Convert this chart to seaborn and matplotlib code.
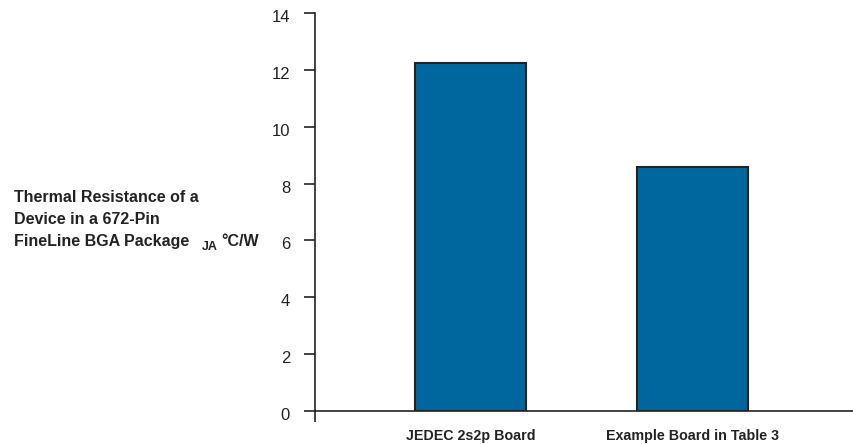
import pandas as pd
import seaborn as sns
from matplotlib import pyplot as plt
from matplotlib import transforms

boards = ['JEDEC 2s2p Board', 'Example Board in Table 3']
theta_ja = [12.23, 8.6]

df = pd.DataFrame({'board': boards, 'theta': theta_ja})

sns.set_style('white')
plt.rcParams['font.family'] = ['Liberation Sans', 'DejaVu Sans']

W, H = 854, 444
fig = plt.figure(figsize=(W/100, H/100), dpi=100)
ax = fig.add_axes([315/W, 33/H, 1 - 315/W, (411-13)/H])

sns.barplot(data=df, x='board', y='theta', color='#00679E', width=0.5,
            edgecolor='#222222', linewidth=1.5, saturation=1, ax=ax)

ax.set_xlim(-0.7, 1.73)
ax.set_ylim(0, 14)
ax.set_yticks(range(0, 15, 2))
ax.set_xlabel('')
ax.set_ylabel('')
for s in ['top', 'right']:
    ax.spines[s].set_visible(False)
for s in ['left', 'bottom']:
    ax.spines[s].set_color('#222222')
    ax.spines[s].set_linewidth(1.2)

ax.tick_params(axis='y', length=8, width=1.2, color='#222222', pad=10,
               labelsize=12, labelcolor='#222222', left=True)
ax.tick_params(axis='x', length=0, pad=13, labelsize=10.3, labelcolor='#222222')
# small tick under the origin, like the original
ax.set_xticks([-0.7], minor=True)
ax.tick_params(axis='x', which='minor', bottom=True, length=8, width=1.2,
               color='#222222')
for lab in ax.get_xticklabels():
    lab.set_fontweight('bold')
shift = transforms.ScaledTranslation(0, -3/100, fig.dpi_scale_trans)
for lab in ax.get_yticklabels():
    lab.set_transform(lab.get_transform() + shift)

# y label drawn as figure text (three lines + subscript)
lines = ['Thermal Resistance of a', 'Device in a 672-Pin', 'FineLine BGA Package']
baselines = [202, 224, 246]
for txt, yb in zip(lines, baselines):
    fig.text(14/W, 1 - yb/H, txt, ha='left', va='baseline', fontsize=11.5,
             fontweight='bold', color='#222222')
fig.text(202/W, 1 - 250/H, 'JA', ha='left', va='baseline', fontsize=9,
         fontweight='bold', color='#222222')
fig.text(221/W, 1 - 246/H, '°C/W', ha='left', va='baseline', fontsize=11.5,
         fontweight='bold', color='#222222')

fig.savefig('out.png', dpi=100)
